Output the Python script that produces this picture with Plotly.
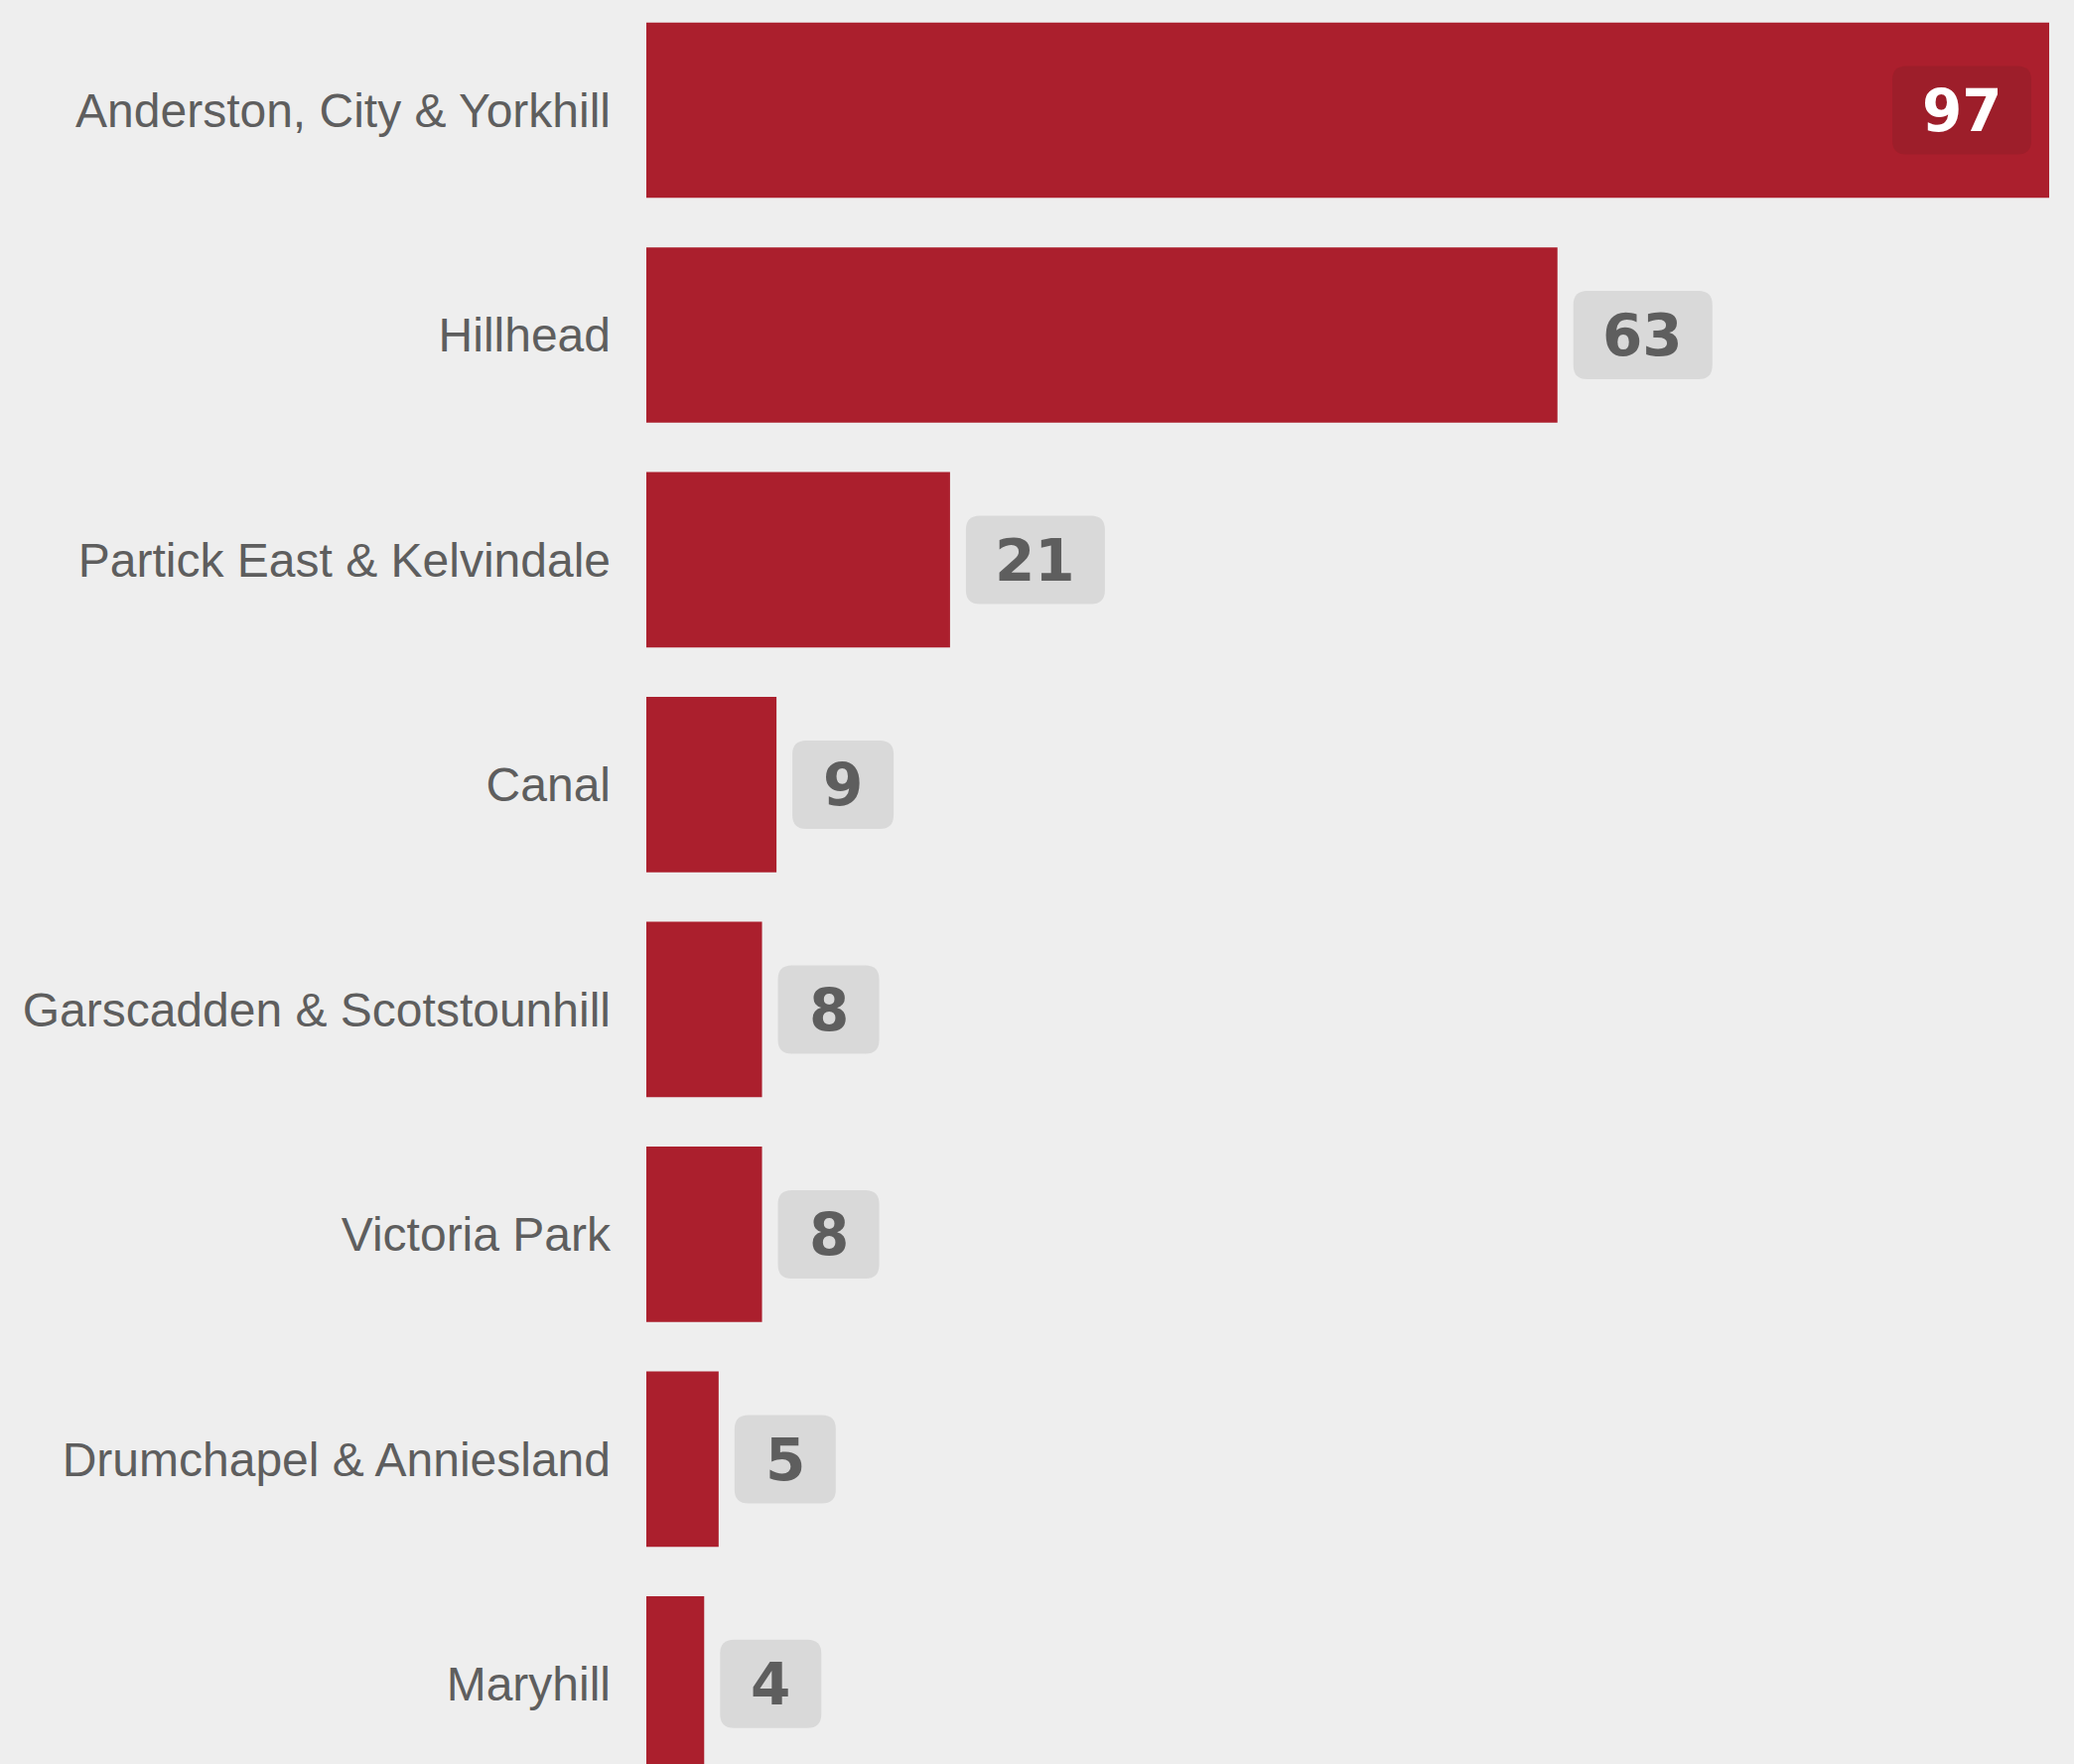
import plotly.graph_objects as go

# Data
wards = ["Anderston, City & Yorkhill", "Hillhead", "Partick East & Kelvindale", "Canal",
         "Garscadden & Scotstounhill", "Victoria Park", "Drumchapel & Anniesland", "Maryhill"]
counts = [97, 63, 21, 9, 8, 8, 5, 4]

RED = "#ab1f2d"
BG = "#eeeeee"
TXT = "#5e5e5e"
BOX = "#d9d9d9"
BOX_IN = "#9d1e2a"
FONT = "Liberation Sans, Arial, sans-serif"
NUM_FONT = "DejaVu Sans, Arial Black, sans-serif"

pos = list(range(len(wards)))

fig = go.Figure(go.Bar(x=counts, y=pos, orientation="h", marker_color=RED,
                       marker_line_width=0, width=0.78, hoverinfo="skip"))


def box_path(cx, w, h, r):
    # rounded rectangle in pixels, centred at (cx, 0)
    x0, x1 = cx - w / 2, cx + w / 2
    y0, y1 = -h / 2, h / 2
    return (f"M{x0 + r},{y0} L{x1 - r},{y0} Q{x1},{y0} {x1},{y0 + r} "
            f"L{x1},{y1 - r} Q{x1},{y1} {x1 - r},{y1} L{x0 + r},{y1} "
            f"Q{x0},{y1} {x0},{y1 - r} L{x0},{y0 + r} Q{x0},{y0} {x0 + r},{y0} Z")


top = max(counts)
for i, v in zip(pos, counts):
    txt = str(v)
    w = 64 + 38 * len(txt)
    inside = v == top
    cx = -(18 + w / 2) if inside else 16 + w / 2
    fig.add_shape(type="path", xref="x", yref="y", xsizemode="pixel", ysizemode="pixel",
                  xanchor=v, yanchor=i, path=box_path(cx, w, 89, 14),
                  fillcolor=BOX_IN if inside else BOX, line_width=0, layer="above")
    fig.add_annotation(x=v, y=i, xshift=cx, yshift=-1, text=f"<b>{txt}</b>", showarrow=False,
                       font=dict(family=NUM_FONT, size=58, color="white" if inside else TXT))

fig.update_yaxes(tickvals=pos, ticktext=wards, range=[7.356, -0.49], showgrid=False,
                 zeroline=False, showline=False, ticks="", ticklabelstandoff=35,
                 tickfont=dict(family=FONT, size=48, color=TXT))
fig.update_xaxes(visible=False, range=[0, top])

fig.update_layout(width=2089, height=1777, margin=dict(l=651, r=25, t=0, b=0),
                  paper_bgcolor=BG, plot_bgcolor=BG, showlegend=False,
                  font=dict(family=FONT))

fig.write_html("out.html", config={"displayModeBar": False},
               post_script="document.body.style.margin='0';"
                           "document.body.style.background='%s';" % BG)
